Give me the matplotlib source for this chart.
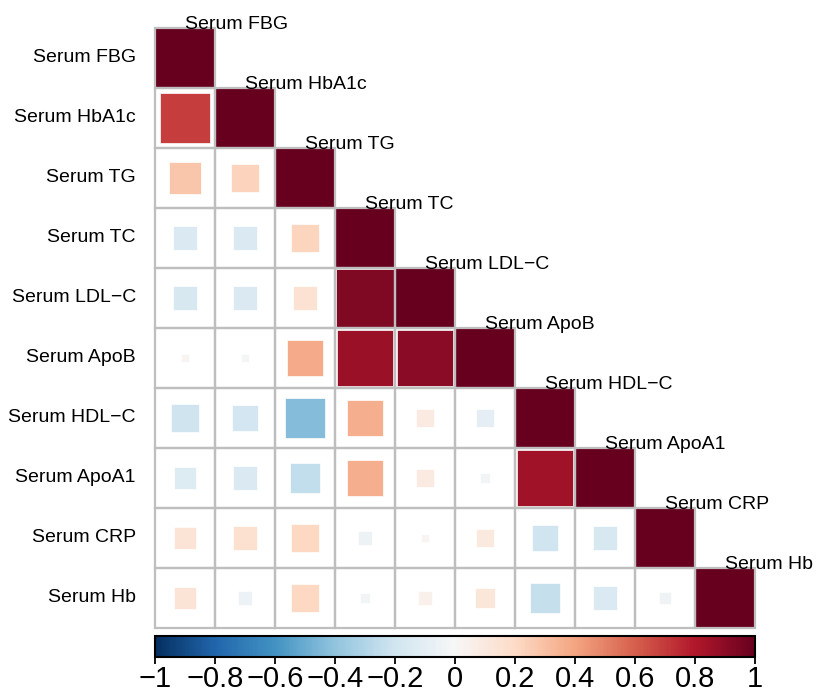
import matplotlib
matplotlib.use("Agg")
import matplotlib.pyplot as plt
import numpy as np
from matplotlib.patches import Rectangle
from matplotlib.colors import Normalize
from matplotlib.cm import ScalarMappable

plt.rcParams['font.family'] = ['Liberation Sans', 'DejaVu Sans']

labels = ['Serum FBG', 'Serum HbA1c', 'Serum TG', 'Serum TC', 'Serum LDL\u2212C',
          'Serum ApoB', 'Serum HDL\u2212C', 'Serum ApoA1', 'Serum CRP', 'Serum Hb']

# lower triangle of the correlation matrix, one list per row (diagonal excluded)
r_hba1c = [0.69]
r_tg = [0.28, 0.23]
r_tc = [-0.15, -0.15, 0.22]
r_ldl = [-0.17, -0.15, 0.15, 0.93]
r_apob = [0.02, -0.02, 0.38, 0.86, 0.90]
r_hdl = [-0.21, -0.18, -0.43, 0.36, 0.09, -0.10]
r_apoa1 = [-0.14, -0.15, -0.25, 0.36, 0.09, -0.03, 0.85]
r_crp = [0.14, 0.16, 0.21, -0.05, 0.02, 0.10, -0.20, -0.17]
r_hb = [0.14, -0.06, 0.21, -0.03, 0.05, 0.12, -0.24, -0.15, -0.04]

cbar_ticks = [-1, -0.8, -0.6, -0.4, -0.2, 0, 0.2, 0.4, 0.6, 0.8, 1]
cbar_ticklabels = ['\u22121', '\u22120.8', '\u22120.6', '\u22120.4', '\u22120.2', '0',
                   '0.2', '0.4', '0.6', '0.8', '1']

rows = [[], r_hba1c, r_tg, r_tc, r_ldl, r_apob, r_hdl, r_apoa1, r_crp, r_hb]
n = len(labels)
corr = np.eye(n)
for i, row in enumerate(rows):
    for j, v in enumerate(row):
        corr[i, j] = v
        corr[j, i] = v

cmap = plt.get_cmap('RdBu_r')
norm = Normalize(-1, 1)

W, H = 816, 698
fig = plt.figure(figsize=(W / 100, H / 100), dpi=100)
ax = fig.add_axes([155 / W, (H - 628) / H, 600 / W, 600 / H])
ax.set_xlim(0, n)
ax.set_ylim(n, 0)
ax.axis('off')

for i in range(n):
    for j in range(i + 1):
        r = corr[i, j]
        # square area proportional to |r|
        s = np.sqrt(abs(r))
        ax.add_patch(Rectangle((j + 0.5 - s / 2, i + 0.5 - s / 2), s, s,
                               facecolor=cmap(norm(r)), edgecolor='white',
                               linewidth=0.5, zorder=2, clip_on=False))
        ax.add_patch(Rectangle((j, i), 1, 1, fill=False, edgecolor='#BEBEBE',
                               linewidth=1.6, zorder=3, clip_on=False))

for i, name in enumerate(labels):
    ax.text(-0.32, i + 0.5, name, ha='right', va='center', fontsize=14, color='black')
    ax.text(i + 0.5, i + 0.02, name, ha='left', va='baseline', fontsize=14,
            color='black', zorder=4)

cax = fig.add_axes([155 / W, (H - 657) / H, 600 / W, 21 / H])
cb = fig.colorbar(ScalarMappable(norm=norm, cmap=cmap), cax=cax,
                  orientation='horizontal', ticks=cbar_ticks)
cb.set_ticklabels(cbar_ticklabels)
cb.outline.set_linewidth(1.5)
cb.outline.set_edgecolor('black')
cax.tick_params(axis='x', length=5, width=1.3, labelsize=21, pad=1)

fig.savefig('out.png', dpi=100)
